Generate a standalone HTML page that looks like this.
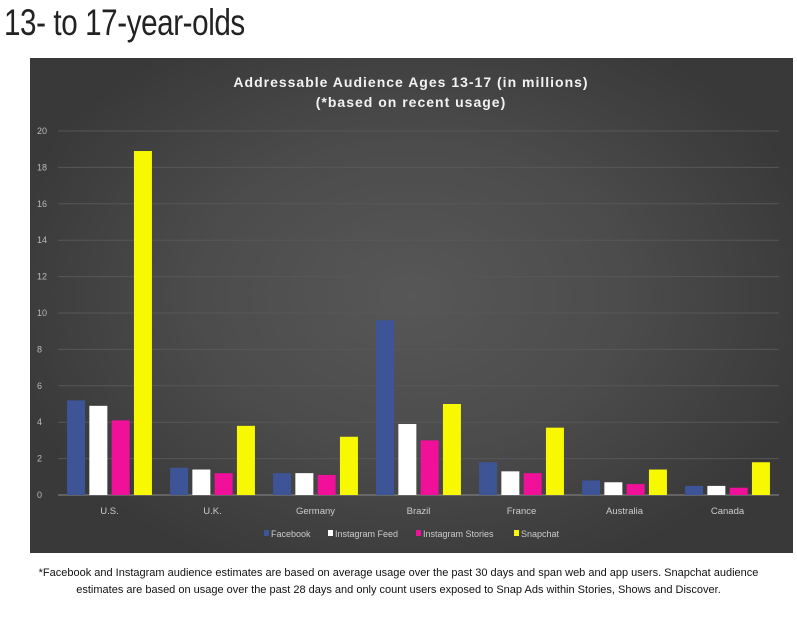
<!DOCTYPE html>
<html><head><meta charset="utf-8"><style>
body{margin:0;background:#fff;width:797px;height:618px;overflow:hidden;font-family:"Liberation Sans",sans-serif}
#title{position:absolute;left:4px;top:2px;font-family:"Liberation Sans Narrow","Liberation Sans",sans-serif;font-size:37px;color:#222;transform:scaleX(0.8);transform-origin:left top;white-space:nowrap;letter-spacing:-0.5px}
#panel{position:absolute;left:30px;top:58px;width:763px;height:495px;background:radial-gradient(ellipse 55% 60% at 50% 48%,#575757 0%,#4c4c4c 50%,#393939 100%)}
#foot{position:absolute;left:0;top:565px;width:797px;text-align:center;font-size:11px;line-height:17px;color:#111}
</style></head><body>
<div id="title">13- to 17-year-olds</div>
<div id="panel">
<svg id="chart" width="763" height="495"></svg>
</div>
<div id="foot">*Facebook and Instagram audience estimates are based on average usage over the past 30 days and span web and app users. Snapchat audience<br>estimates are based on usage over the past 28 days and only count users exposed to Snap Ads within Stories, Shows and Discover.</div>
<script>
const categories=["U.S.","U.K.","Germany","Brazil","France","Australia","Canada"];
const seriesNames=["Facebook","Instagram Feed","Instagram Stories","Snapchat"];
const facebook=[5.2,1.5,1.2,9.6,1.8,0.8,0.5];
const instagramFeed=[4.9,1.4,1.2,3.9,1.3,0.7,0.5];
const instagramStories=[4.1,1.2,1.1,3.0,1.2,0.6,0.4];
const snapchat=[18.9,3.8,3.2,5.0,3.7,1.4,1.8];
const yTicks=[0,2,4,6,8,10,12,14,16,18,20];
const colors=["#3d5496","#ffffff","#f0109a","#f8f800"];
const series=[facebook,instagramFeed,instagramStories,snapchat];
const NS="http://www.w3.org/2000/svg";
const svg=document.getElementById("chart");
const x0=28,x1=749,yBase=437,yTop=73;
const y=v=>yBase-(v/20)*(yBase-yTop);
const gw=(x1-x0)/categories.length;
function el(t,a){const e=document.createElementNS(NS,t);for(const k in a)e.setAttribute(k,a[k]);svg.appendChild(e);return e;}
let t=el("text",{x:381,y:29,"text-anchor":"middle",fill:"#f2f2f2","font-size":"14","font-weight":"bold","letter-spacing":"1"});t.textContent="Addressable Audience Ages 13-17 (in millions)";


t=el("text",{x:381,y:49,"text-anchor":"middle",fill:"#f2f2f2","font-size":"14","font-weight":"bold","letter-spacing":"1"});t.textContent="(*based on recent usage)";


yTicks.forEach(v=>{
 const l=el("line",{x1:x0,x2:x1,y1:y(v),y2:y(v),stroke:v===0?"#8a8a8a":"#575757","stroke-width":1});
 
 
 const tx=el("text",{x:7,y:y(v)+3,fill:"#bbb","font-size":"9"});tx.textContent=v;
 
 
});
const bw=18,gap=4.3;
categories.forEach((c,i)=>{
 const cx=x0+gw*(i+0.5);
 series.forEach((s,j)=>{
  const bx=cx-(4*bw+3*gap)/2+j*(bw+gap);
  const r=el("rect",{x:bx,y:y(s[i]),width:bw,height:yBase-y(s[i]),fill:colors[j]});
  
  
 });
 const lb=el("text",{x:cx,y:456,"text-anchor":"middle",fill:"#ccc","font-size":"9.5"});lb.textContent=c;
 
 
});
const lx=[234,298,386,484];
seriesNames.forEach((n,j)=>{
 const r=el("rect",{x:lx[j],y:472,width:5,height:6,fill:colors[j]});
 
 
 const tx=el("text",{x:lx[j]+7,y:479,fill:"#ccc","font-size":"9"});tx.textContent=n;
 
 
});
</script>
</body></html>
